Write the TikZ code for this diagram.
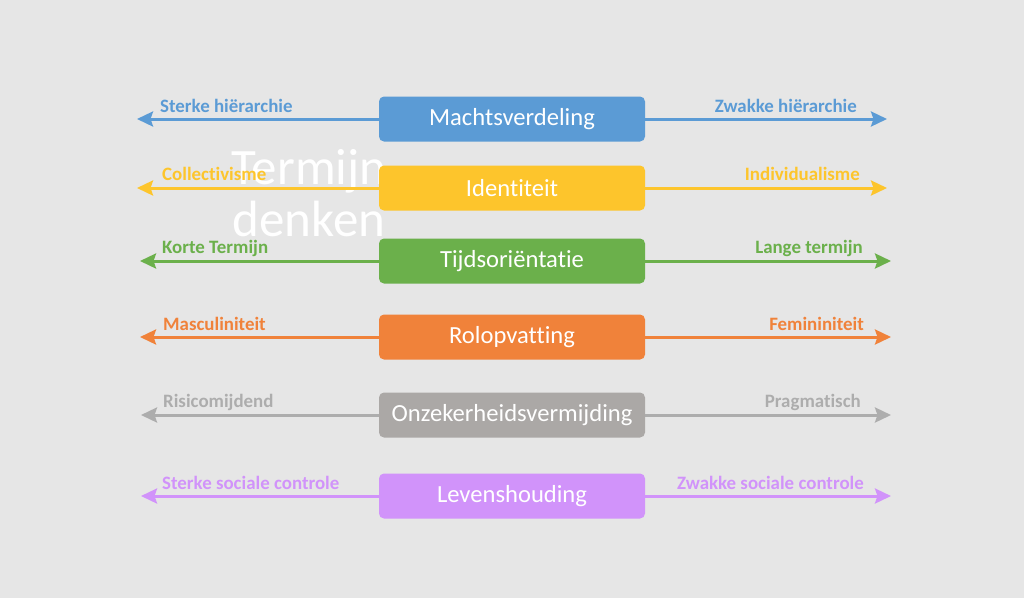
\documentclass[tikz,border=0pt]{standalone}
\usepackage{fontspec}
\setmainfont{Carlito}[Ligatures={NoCommon}]
\usetikzlibrary{arrows.meta}

\definecolor{achtergrond}{HTML}{E6E6E6}
\definecolor{blauw}{HTML}{5B9BD5}
\definecolor{geel}{HTML}{FDC52C}
\definecolor{groen}{HTML}{6BB04B}
\definecolor{oranje}{HTML}{F0823A}
\definecolor{grijs}{HTML}{ABA8A6}
\definecolor{grijstekst}{HTML}{ADADAD}
\definecolor{paars}{HTML}{D193FA}

\begin{document}
\begin{tikzpicture}[x=1pt, y=-1pt,
		vak/.style={rounded corners=5pt, minimum width=266pt, minimum height=45pt, text=white, inner sep=0pt, font=\fontsize{24.6}{28}\selectfont},
		pijl/.style={line width=3pt, -{Stealth[length=16pt, width=15pt, inset=2.5pt]}},
		lbl/.style={inner sep=0pt, font=\fontsize{18.9}{22}\selectfont\bfseries}]
		% Achtergrond
		\fill[achtergrond] (0,0) rectangle (1024,598);

		% Termijn denken (achter de rest)
		\node[white, inner sep=0pt, anchor=base, font=\fontsize{51}{55}\selectfont] (termijn) at (309,184.5) {Termijn};
		\node[white, inner sep=0pt, anchor=base, font=\fontsize{51}{55}\selectfont] (denken) at (309,236) {denken};

		% Machtsverdeling
		\node[vak, fill=blauw] (macht) at (512,119) {Machtsverdeling};
		\coordinate (machtL) at (137,119);
		\coordinate (machtR) at (887,119);
		\draw[pijl, blauw] (macht) -- (machtL);
		\draw[pijl, blauw] (macht) -- (machtR);
		\node[lbl, blauw, anchor=base west] (machtl) at (160,112) {Sterke hiërarchie};
		\node[lbl, blauw, anchor=base east] (machtr) at (857,112) {Zwakke hiërarchie};

		% Identiteit
		\node[vak, fill=geel] (ident) at (512,188) {Identiteit};
		\coordinate (identL) at (137,188);
		\coordinate (identR) at (887,188);
		\draw[pijl, geel] (ident) -- (identL);
		\draw[pijl, geel] (ident) -- (identR);
		\node[lbl, geel, anchor=base west] (identl) at (162,180) {Collectivisme};
		\node[lbl, geel, anchor=base east] (identr) at (860,180) {Individualisme};

		% Tijdsorientatie
		\node[vak, fill=groen] (tijd) at (512,261) {Tijdsoriëntatie};
		\coordinate (tijdL) at (140,261);
		\coordinate (tijdR) at (891,261);
		\draw[pijl, groen] (tijd) -- (tijdL);
		\draw[pijl, groen] (tijd) -- (tijdR);
		\node[lbl, groen, anchor=base west] (tijdl) at (162,253) {Korte Termijn};
		\node[lbl, groen, anchor=base east] (tijdr) at (863,253) {Lange termijn};

		% Rolopvatting
		\node[vak, fill=oranje] (rol) at (512,337) {Rolopvatting};
		\coordinate (rolL) at (140,337);
		\coordinate (rolR) at (891,337);
		\draw[pijl, oranje] (rol) -- (rolL);
		\draw[pijl, oranje] (rol) -- (rolR);
		\node[lbl, oranje, anchor=base west] (roll) at (163,330) {Masculiniteit};
		\node[lbl, oranje, anchor=base east] (rolr) at (864,330) {Femininiteit};

		% Onzekerheidsvermijding
		\node[vak, fill=grijs] (onzeker) at (512,415) {Onzekerheidsvermijding};
		\coordinate (onzekerL) at (141,415);
		\coordinate (onzekerR) at (891,415);
		\draw[pijl, grijstekst] (onzeker) -- (onzekerL);
		\draw[pijl, grijstekst] (onzeker) -- (onzekerR);
		\node[lbl, grijstekst, anchor=base west] (onzekerl) at (163,407) {Risicomijdend};
		\node[lbl, grijstekst, anchor=base east] (onzekerr) at (861,407) {Pragmatisch};

		% Levenshouding
		\node[vak, fill=paars] (leven) at (512,496) {Levenshouding};
		\coordinate (levenL) at (141,496);
		\coordinate (levenR) at (891,496);
		\draw[pijl, paars] (leven) -- (levenL);
		\draw[pijl, paars] (leven) -- (levenR);
		\node[lbl, paars, anchor=base west] (levenl) at (162,489) {Sterke sociale controle};
		\node[lbl, paars, anchor=base east] (levenr) at (864,489) {Zwakke sociale controle};
	\end{tikzpicture}
\end{document}
